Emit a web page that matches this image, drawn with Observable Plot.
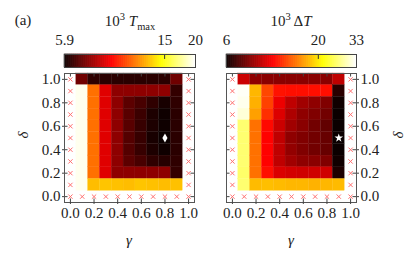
<!DOCTYPE html>
<html><head><meta charset="utf-8">
<script src="https://cdn.jsdelivr.net/npm/d3@7"></script>
<script src="https://cdn.jsdelivr.net/npm/@observablehq/plot@0.6"></script>
<style>
body{margin:0;background:#fff;}
#c{position:relative;width:415px;height:257px;font-family:"Liberation Serif","DejaVu Serif",serif;color:#222;overflow:hidden}
#c svg{position:absolute;left:0;top:0;overflow:visible}
#c svg text{font-family:"Liberation Serif","DejaVu Serif",serif !important;font-size:15px !important;fill:#222}
.lbl{position:absolute;font-size:15px;white-space:nowrap;line-height:1;transform:translate(-50%,-50%)}
.lbl sup,.lbl sub{font-size:10.5px;line-height:0}
</style></head><body><div id="c"></div>
<script>
// ---- data ----
const gammas = [0.1, 0.2, 0.3, 0.4, 0.5, 0.6, 0.7, 0.8, 0.9];
const deltas = [1.0, 0.9, 0.8, 0.7, 0.6, 0.5, 0.4, 0.3, 0.2, 0.1];
const gridTicks = [0, 0.1, 0.2, 0.3, 0.4, 0.5, 0.6, 0.7, 0.8, 0.9, 1.0];
const labelTicks = [0, 0.2, 0.4, 0.6, 0.8, 1.0];
const tmaxRows = [
  [7.1, 6.3, 6.25, 6.25, 6.25, 6.25, 6.25, 6.25, 7.1],
  [19.6, 11.3, 8.7, 7.5, 7.5, 7.5, 7.5, 7.5, 6.35],
  [19.6, 11.3, 8.7, 7.5, 6.85, 6.6, 6.3, 6.05, 6.3],
  [19.6, 11.3, 8.7, 7.5, 6.8, 6.45, 6.1, 5.95, 6.25],
  [19.6, 11.3, 8.7, 7.5, 6.8, 6.4, 6.1, 5.95, 6.25],
  [19.6, 11.3, 8.7, 7.5, 6.75, 6.4, 6.05, 5.9, 6.25],
  [19.6, 11.3, 8.7, 7.5, 6.75, 6.4, 6.1, 5.95, 6.25],
  [19.6, 11.3, 8.7, 7.5, 6.85, 6.6, 6.3, 6.2, 6.3],
  [19.6, 11.3, 8.7, 7.5, 7.5, 7.5, 7.5, 7.5, 6.35],
  [19.6, 13.0, 13.2, 13.1, 13.0, 13.2, 13.1, 13.0, 13.1]
];
const dTRows = [
  [9.8, 8.4, 8.3, 8.3, 8.3, 8.3, 8.3, 8.3, 9.5],
  [32.5, 17.8, 13.4, 11.7, 11.6, 11.6, 11.6, 11.6, 6.5],
  [32.0, 17.5, 13.2, 10.7, 9.5, 8.8, 8.4, 8.1, 6.1],
  [30.9, 16.8, 12.6, 10.25, 9.1, 8.4, 8.1, 7.8, 6.0],
  [25.9, 14.9, 11.4, 9.8, 8.8, 8.3, 7.8, 7.5, 6.0],
  [25.9, 14.9, 11.2, 9.5, 8.4, 8.1, 7.8, 7.6, 6.0],
  [25.9, 14.9, 11.2, 9.5, 8.5, 8.1, 7.8, 7.6, 6.0],
  [25.9, 14.9, 11.2, 9.5, 8.8, 8.4, 8.3, 8.1, 6.1],
  [25.6, 14.9, 11.6, 10.2, 10.0, 9.9, 9.9, 9.9, 6.3],
  [25.9, 18.0, 18.2, 18.0, 17.8, 17.8, 17.6, 17.8, 18.0]
];
const tmaxDomain = [5.9, 20];
const dTDomain = [6, 33];
const tmaxBarTicks = [5.9, 15, 20];
const tmaxBarLabels = ["5.9", "15", "20"];
const dTBarTicks = [6, 20, 33];
const dTBarLabels = ["6", "20", "33"];
const tmaxBest = {g: 0.8, d: 0.5};
const dTBest = {g: 0.9, d: 0.5};

// matplotlib "hot"
function hot(t) {
  t = Math.max(0, Math.min(1, t));
  const a = 0.365079, b = 0.746032;
  const r = t < a ? 0.0416 + (1 - 0.0416) * t / a : 1;
  const g = t < a ? 0 : t < b ? (t - a) / (b - a) : 1;
  const bl = t < b ? 0 : (t - b) / (1 - b);
  return d3.rgb(r * 255, g * 255, bl * 255).toString();
}

const root = document.getElementById("c");
const FONT = "Liberation Serif, DejaVu Serif, serif";
const fmt = d3.format(".1f");

function panel(rows, domain, best, symbol, left) {
  const cells = [];
  rows.forEach((row, i) => row.forEach((v, j) => cells.push({g: gammas[j], d: deltas[i], v})));
  const edges = [];
  gridTicks.forEach(g => gridTicks.forEach(d => { if (g === 0 || g === 1 || d === 0) edges.push({g, d}); }));
  const fl = left ? 64 : 226, fr = left ? 194 : 356;
  const tk = 0.03;
  return Plot.plot({
    width: 415, height: 257,
    marginLeft: fl, marginRight: 415 - fr, marginTop: 73, marginBottom: 55,
    style: {background: "transparent"},
    x: {domain: [-0.05, 1.05]},
    y: {domain: [-0.05, 1.05]},
    color: {type: "log", domain, interpolate: hot},
    marks: [
      Plot.rect(cells, {x1: d => d.g - 0.05, x2: d => d.g + 0.05, y1: d => d.d - 0.05, y2: d => d.d + 0.05, fill: "v", stroke: "v", strokeWidth: 0.3}),
      Plot.dot(edges, {x: "g", y: "d", symbol: "times", r: 2.1, stroke: "#ff7070", strokeWidth: 1}),
      Plot.dot([best], {x: "g", y: "d", symbol, fill: "white", stroke: "none", r: 2.7}),
      // inward ticks on all sides
      Plot.ruleX(labelTicks, {x: d => d, y1: -0.05, y2: -0.05 + tk, stroke: "#444"}),
      Plot.ruleX(labelTicks, {x: d => d, y1: 1.05, y2: 1.05 - tk, stroke: "#444"}),
      Plot.ruleY(labelTicks, {y: d => d, x1: -0.05, x2: -0.05 + tk, stroke: "#444"}),
      Plot.ruleY(labelTicks, {y: d => d, x1: 1.05, x2: 1.05 - tk, stroke: "#444"}),
      Plot.frame({stroke: "#555"}),
      Plot.axisX(labelTicks, {tickFormat: fmt, tickSize: 2, tickPadding: 3, label: null, stroke: "#444", fontFamily: FONT, fontSize: 15}),
      Plot.axisY(labelTicks, {anchor: left ? "left" : "right", tickFormat: fmt, tickSize: 2, tickPadding: 2, label: null, stroke: "#444", fontFamily: FONT, fontSize: 15})
    ]
  });
}

function colorbar(domain, ticks, labels, left) {
  const fl = left ? 64 : 226, fr = left ? 195 : 356;
  const lo = Math.log(domain[0]), hi = Math.log(domain[1]);
  const n = 200;
  const segs = d3.range(n).map(i => ({a: Math.exp(lo + (hi - lo) * i / n), b: Math.exp(lo + (hi - lo) * (i + 1) / n), m: Math.exp(lo + (hi - lo) * (i + 0.5) / n)}));
  return Plot.plot({
    width: 415, height: 67,
    marginLeft: fl, marginRight: 415 - fr, marginTop: 54, marginBottom: 0,
    style: {background: "transparent"},
    x: {type: "log", domain, axis: null},
    y: {domain: [0, 1], axis: null},
    color: {type: "log", domain, interpolate: hot},
    marks: [
      Plot.rect(segs, {x1: "a", x2: "b", y1: 0, y2: 1, fill: "m", stroke: "m", strokeWidth: 0.5}),
      Plot.ruleX(ticks.slice(1, -1), {y1: 1, y2: 0.62, stroke: "#333"}),
      Plot.frame({stroke: "#444"}),
      Plot.text(ticks, {x: d => d, y: 1, text: d => labels[ticks.indexOf(d)], dy: -14, fill: "#222", fontFamily: FONT, fontSize: 15})
    ]
  });
}

root.append(panel(tmaxRows, tmaxDomain, tmaxBest, "diamond", true));
root.append(panel(dTRows, dTDomain, dTBest, "star", false));
root.append(colorbar(tmaxDomain, tmaxBarTicks, tmaxBarLabels, true));
root.append(colorbar(dTDomain, dTBarTicks, dTBarLabels, false));

function label(html, x, y, extra) {
  const el = document.createElement("div");
  el.className = "lbl";
  el.innerHTML = html;
  el.style.left = x + "px";
  el.style.top = y + "px";
  if (extra) el.style.transform = "translate(-50%,-50%) " + extra;
  root.append(el);
}
label("(a)", 23, 20);
label("10<sup>3</sup> <i>T</i><sub>max</sub>", 130, 21);
label("10<sup>3</sup> Δ<i>T</i>", 291, 21);
label("<i>γ</i>", 129, 240);
label("<i>γ</i>", 291, 240);
label("<i>δ</i>", 23, 135, "rotate(-90deg)");
label("<i>δ</i>", 398, 135, "rotate(-90deg)");
</script></body></html>
